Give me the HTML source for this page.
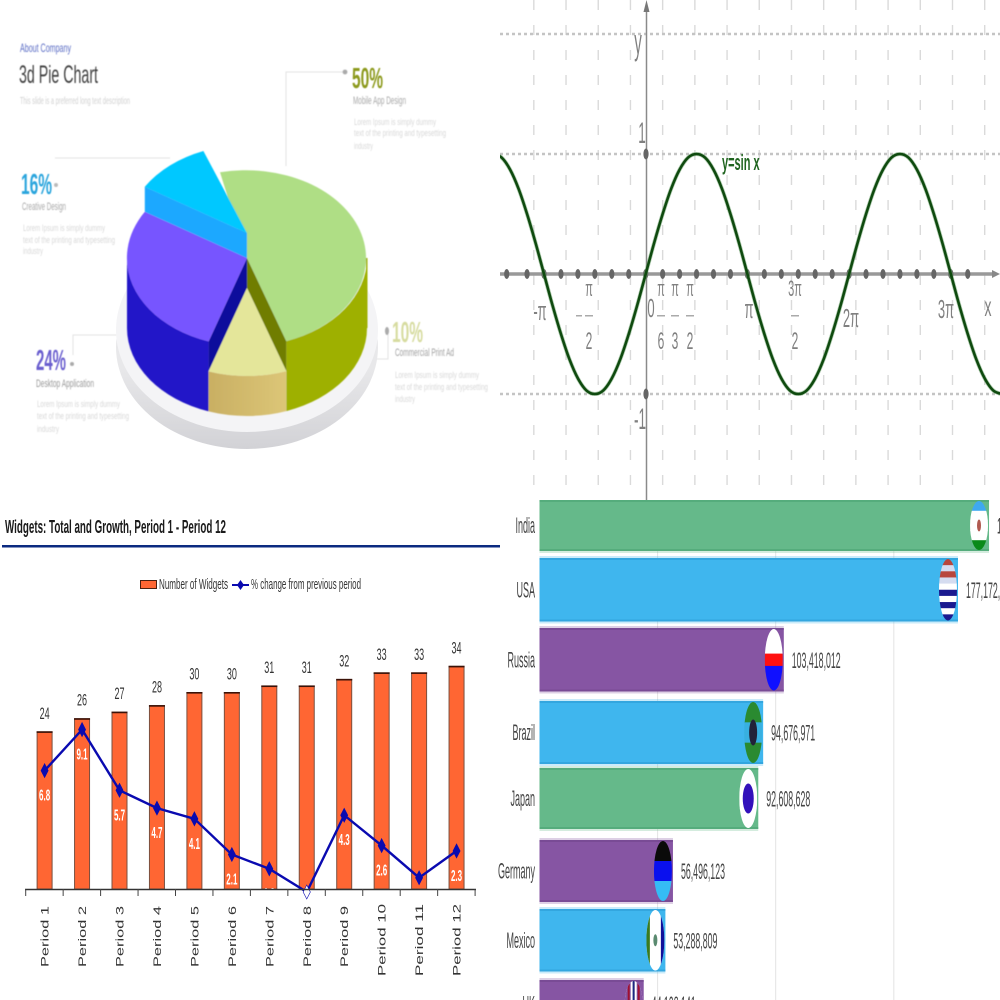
<!DOCTYPE html>
<html lang="en">
<head>
<meta charset="utf-8">
<title>Four chart collage</title>
<style>
html,body{margin:0;padding:0;background:#fff;width:1000px;height:1000px;overflow:hidden}
svg{display:block;font-family:"Liberation Sans",sans-serif}
</style>
</head>
<body>
<svg id="collage" xmlns="http://www.w3.org/2000/svg" width="1000" height="1000" viewBox="0 0 1000 1000">
  <defs>
    <clipPath id="clip-sine"><rect x="500" y="0" width="500" height="500"/></clipPath>
    <clipPath id="clip-race"><rect x="498" y="500" width="502" height="500"/></clipPath>
    <linearGradient id="tan-grad" x1="0" x2="1" y1="0" y2="0"><stop offset="0" stop-color="#c9af63"/><stop offset="1" stop-color="#dcc677"/></linearGradient>
    <linearGradient id="plate-grad" x1="0" x2="0" y1="0" y2="1"><stop offset="0.6" stop-color="#e8e8ea"/><stop offset="1" stop-color="#d2d2d6"/></linearGradient>
    <filter id="soft" x="-5%" y="-5%" width="110%" height="110%"><feGaussianBlur stdDeviation="0.45"/></filter>
  </defs>

  <!-- Top-left: 3D pie infographic -->
  <g id="pie-panel">
    <g filter="url(#soft)">
      <text x="20" y="52" font-size="12" fill="#5a6cc4" textLength="51" lengthAdjust="spacingAndGlyphs">About Company</text>
      <text x="19" y="83" font-size="25" fill="#3f3f3f" textLength="79" lengthAdjust="spacingAndGlyphs">3d Pie Chart</text>
      <text x="20" y="104" font-size="10" fill="#d0d0d0" textLength="110" lengthAdjust="spacingAndGlyphs">This slide is a preferred long text description</text>

      <text x="352" y="88" font-size="29" font-weight="bold" fill="#8c9a1e" textLength="31" lengthAdjust="spacingAndGlyphs">50%</text>
      <text x="353" y="104" font-size="11" fill="#a8a8a8" textLength="53" lengthAdjust="spacingAndGlyphs">Mobile App Design</text>
      <g font-size="9" fill="#d8d8d8">
        <text x="354" y="125" textLength="82" lengthAdjust="spacingAndGlyphs">Lorem Ipsum is simply dummy</text>
        <text x="354" y="136" textLength="92" lengthAdjust="spacingAndGlyphs">text of the printing and typesetting</text>
        <text x="354" y="149" textLength="19" lengthAdjust="spacingAndGlyphs">industry</text>
      </g>

      <text x="21" y="194" font-size="29" font-weight="bold" fill="#2ba5dd" textLength="31" lengthAdjust="spacingAndGlyphs">16%</text>
      <text x="22" y="210" font-size="11" fill="#a8a8a8" textLength="44" lengthAdjust="spacingAndGlyphs">Creative Design</text>
      <g font-size="9" fill="#d8d8d8">
        <text x="23" y="231" textLength="82" lengthAdjust="spacingAndGlyphs">Lorem Ipsum is simply dummy</text>
        <text x="23" y="243" textLength="92" lengthAdjust="spacingAndGlyphs">text of the printing and typesetting</text>
        <text x="23" y="254" textLength="20" lengthAdjust="spacingAndGlyphs">industry</text>
      </g>

      <text x="36" y="370" font-size="29" font-weight="bold" fill="#6a5fcf" textLength="30" lengthAdjust="spacingAndGlyphs">24%</text>
      <text x="36" y="387" font-size="11" fill="#999" textLength="58" lengthAdjust="spacingAndGlyphs">Desktop Application</text>
      <g font-size="9" fill="#d8d8d8">
        <text x="37" y="407" textLength="83" lengthAdjust="spacingAndGlyphs">Lorem Ipsum is simply dummy</text>
        <text x="37" y="419" textLength="92" lengthAdjust="spacingAndGlyphs">text of the printing and typesetting</text>
        <text x="37" y="432" textLength="22" lengthAdjust="spacingAndGlyphs">industry</text>
      </g>

      <text x="392" y="342" font-size="29" font-weight="bold" fill="#d7dca0" textLength="31" lengthAdjust="spacingAndGlyphs">10%</text>
      <text x="395" y="356" font-size="11" fill="#a0a0a0" textLength="59" lengthAdjust="spacingAndGlyphs">Commercial Print Ad</text>
      <g font-size="9" fill="#d8d8d8">
        <text x="395" y="378" textLength="84" lengthAdjust="spacingAndGlyphs">Lorem Ipsum is simply dummy</text>
        <text x="395" y="390" textLength="93" lengthAdjust="spacingAndGlyphs">text of the printing and typesetting</text>
        <text x="395" y="402" textLength="20" lengthAdjust="spacingAndGlyphs">industry</text>
      </g>

      <g fill="none" stroke="#e2e2e2" stroke-width="1">
        <path d="M286 166V72H343"/>
        <path d="M55 158H170"/>
        <path d="M73 355V335H155"/>
        <path d="M285 359H388V332"/>
      </g>
      <circle cx="345" cy="72" r="2.4" fill="#aaa"/>
      <circle cx="56" cy="185" r="2" fill="#bbb"/>
      <circle cx="155" cy="336" r="2" fill="#99a"/>
      <circle cx="72" cy="364" r="2" fill="#aaa"/>
      <ellipse cx="387" cy="331" rx="2" ry="4" fill="#aaa"/>
    </g>

    <ellipse cx="247" cy="347" rx="131" ry="102" fill="url(#plate-grad)"/>
    <ellipse cx="247" cy="330" rx="131" ry="102" fill="#f4f4f6"/>
    <g id="pie-slices" filter="url(#soft)"></g>
  </g>

  <!-- Top-right: sine -->
  <g id="sine-panel" clip-path="url(#clip-sine)"></g>

  <!-- Bottom-left: widgets -->
  <g id="widgets-panel">
    <text x="5" y="533" font-size="18" font-weight="bold" fill="#1a1a1a" textLength="221" lengthAdjust="spacingAndGlyphs">Widgets: Total and Growth, Period 1 - Period 12</text>
    <rect x="2" y="545" width="498" height="2.5" fill="#0b2a80"/>
    <rect x="140.5" y="580.5" width="16" height="8" fill="#ff6633" stroke="#4a2010"/>
    <text x="159" y="589" font-size="15" fill="#333" textLength="69" lengthAdjust="spacingAndGlyphs">Number of Widgets</text>
    <line x1="232" x2="249" y1="585" y2="585" stroke="#0a0ab0" stroke-width="2"/>
    <path d="M240.500 580L244 585L240.500 590L237 585Z" fill="#0a0ab0"/>
    <text x="251" y="589" font-size="15" fill="#333" textLength="110" lengthAdjust="spacingAndGlyphs">% change from previous period</text>
    <g id="widgets-plot"></g>
  </g>

  <!-- Bottom-right: bar race -->
  <g id="race-panel" clip-path="url(#clip-race)"></g>
</svg>

<script>
const sliceNames = ['commercial-green', 'print-yellow', 'desktop-purple', 'creative-cyan'];
const sliceValues = [48.3, 10.5, 28.6, 10.3];

// ---------- Sine data ----------
const sineTwelfths = [-18,-17,-16,-15,-14,-13,-12,-11,-10,-9,-8,-7,-6,-5,-4,-3,-2,-1,0,1,2,3,4,5,6,7,8,9,10,11,12,13,14,15,16,17,18,19,20,21,22,23,24,25,26,27,28,29,30,31,32,33,34,35,36,37,38,39,40,41,42];
const sineValues = [1,.97,.87,.71,.5,.26,0,-.26,-.5,-.71,-.87,-.97,-1,-.97,-.87,-.71,-.5,-.26,0,.26,.5,.71,.87,.97,1,.97,.87,.71,.5,.26,0,-.26,-.5,-.71,-.87,-.97,-1,-.97,-.87,-.71,-.5,-.26,0,.26,.5,.71,.87,.97,1,.97,.87,.71,.5,.26,0,-.26,-.5,-.71,-.87,-.97,-1];
const sineTickSixths = [-8.2,-7,-6,-5,-4,-3,-2,-1,0,1,2,3,4,5,6,7,8,9,10,11,12,13,14,15,16,17,18,19];
const sineGridTwelfths = [-13.2,-9.4,-5.6,-1.8,2,5.8,9.6,13.4,17.2,21,24.8,28.6,32.4,36.2,40];

// ---------- Widgets data ----------
const periods = ['Period 1','Period 2','Period 3','Period 4','Period 5','Period 6','Period 7','Period 8','Period 9','Period 10','Period 11','Period 12'];
const widgetCounts = [24,26,27,28,30,30,31,31,32,33,33,34];
const pctChange = [6.8,9.1,5.7,4.7,4.1,2.1,1.3,0,4.3,2.6,0.8,2.3];

// ---------- Bar race data ----------
const countries = ['India','USA','Russia','Brazil','Japan','Germany','Mexico','UK'];
const populations = [190312145,177172388,103418012,94676971,92608628,56496123,53288809,44108141];
const populationLabels = ['190,312,145','177,172,388','103,418,012','94,676,971','92,608,628','56,496,123','53,288,809','44,108,141'];
const raceGridValues = [50000000,100000000,150000000];
const barColorNames = ['green','blue','purple','blue','green','purple','blue','purple'];

const NS = 'http://www.w3.org/2000/svg';
function mk(tag, attrs, parent) {
  const n = document.createElementNS(NS, tag);
  for (const k in attrs) n.setAttribute(k, attrs[k]);
  parent.appendChild(n);
  return n;
}
function squeezed(str, x, y, size, sx, fill, anchor, parent, weight) {
  const t = mk('text', {transform:'translate(' + x + ' ' + y + ') scale(' + sx + ' 1)', 'font-size':size, fill:fill, 'text-anchor':anchor || 'start', 'font-weight':weight || 'normal'}, parent);
  t.textContent = str;
  return t;
}

// ========== PIE ==========
(function () {
  const g = document.getElementById('pie-slices');
  const cx = 247, cy = 258, rx = 120, ry = 88, depth = 70;
  const deg = v => v * 3.6;
  const pt = (a, dx, dy) => {
    const r = a * Math.PI / 180;
    return [cx + rx * Math.sin(r) + (dx || 0), cy - ry * Math.cos(r) + (dy || 0)];
  };
  const f = p => p[0].toFixed(1) + ' ' + p[1].toFixed(1);
  const arc = (a0, a1, dx, dy, rev) => {
    const s = a1 - a0 > 180 ? 1 : 0;
    return 'A' + rx + ' ' + ry + ' 0 ' + s + ' ' + (rev ? 0 : 1) + ' ' + f(rev ? pt(a0, dx, dy) : pt(a1, dx, dy));
  };
  const wedge = (a0, a1, dx, dy) => 'M' + (cx + dx) + ' ' + (cy + dy) + 'L' + f(pt(a0, dx, dy)) + arc(a0, a1, dx, dy) + 'Z';
  const rim = (a0, a1, dy, h) => 'M' + f(pt(a0, 0, dy)) + arc(a0, a1, 0, dy) + 'L' + f(pt(a1, 0, dy + h)) + arc(a0, a1, 0, dy + h, true) + 'Z';

  const start = -13;
  const a1 = start + deg(sliceValues[0]);
  const a2 = a1 + deg(sliceValues[1]);
  const a3 = a2 + deg(sliceValues[2]);
  const a4 = a3 + deg(sliceValues[3]);
  const lift = 25, drop = 30;

  let n;
  n = mk('path', {d: rim(90, a1, 0, depth), fill:'#9eb000'}, g);
  
  
  n = mk('rect', {x:cx + rx - 1, y:cy, width:1.5, height:depth, fill:'#9eb000'}, g);
  
  
  n = mk('path', {d: rim(a2, 270, 0, depth), fill:'#2214c8'}, g);
  
  
  n = mk('path', {d:'M' + cx + ' ' + cy + 'L' + f(pt(a1)) + 'L' + f(pt(a1, 0, drop)) + 'L' + cx + ' ' + (cy + drop) + 'Z', fill:'#6f7d00'}, g);
  
  
  n = mk('path', {d:'M' + cx + ' ' + cy + 'L' + f(pt(a2)) + 'L' + f(pt(a2, 0, drop)) + 'L' + cx + ' ' + (cy + drop) + 'Z', fill:'#0a0a9c'}, g);
  
  
  n = mk('path', {d: rim(a1, a2, drop, depth - drop), fill:'url(#tan-grad)'}, g);
  
  
  n = mk('path', {d: wedge(a1, a2, 0, drop), fill:'#e4e69a'}, g);
  
  
  n = mk('path', {d: wedge(start, a1, 0, 0), fill:'#afde85'}, g);
  
  
  n = mk('path', {d: wedge(a2, a3, 0, 0), fill:'#7755ff'}, g);
  
  
  n = mk('path', {d:'M' + cx + ' ' + (cy - lift) + 'L' + f(pt(a3, 0, -lift)) + 'L' + f(pt(a3, 0, 0)) + 'L' + cx + ' ' + cy + 'Z', fill:'#1aa8ff'}, g);
  
  
  n = mk('path', {d: wedge(a3, a4, 0, -lift), fill:'#00c8ff'}, g);
  
  
})();

// ========== SINE ==========
(function () {
  const g = document.getElementById('sine-panel');
  const sx = t => 645.7 + t * 101.7 / 12;
  const sy = v => 274 - 120 * v;
  let n;
  sineGridTwelfths.forEach(t => {
    n = mk('line', {x1:sx(t), x2:sx(t), y1:0, y2:500, stroke:'#dadada', 'stroke-width':1.4, 'stroke-dasharray':'10 15'}, g);
    
    
  });
  [1.0, -1.0, 2.0].forEach(v => {
    n = mk('line', {x1:500, x2:1000, y1:sy(v), y2:sy(v), stroke:'#c4c4c4', 'stroke-width':2.4, 'stroke-dasharray':'3 3'}, g);
    
    
  });
  n = mk('line', {x1:646.5, x2:646.5, y1:4, y2:500, stroke:'#8a8a8a', 'stroke-width':1.5}, g);
  
  
  n = mk('path', {d:'M646.5 0L643.5 12H649.500Z', fill:'#777'}, g);
  
  
  n = mk('line', {x1:500, x2:996, y1:274, y2:274, stroke:'#999', 'stroke-width':3.5}, g);
  
  
  n = mk('path', {d:'M1000 274L992 270V278Z', fill:'#888'}, g);
  
  
  sineTickSixths.forEach(k => {
    n = mk('ellipse', {cx:sx(k * 2), cy:274, rx:2.6, ry:5, fill:'#666'}, g);
    
    
  });
  [1, -1].forEach(v => {
    n = mk('ellipse', {cx:646, cy:sy(v), rx:2.6, ry:5.5, fill:'#666'}, g);
    
    
  });

  const pts = sineTwelfths.map((t, i) => [sx(t), sy(sineValues[i])]);
  let d = 'M' + pts[0][0].toFixed(2) + ' ' + pts[0][1].toFixed(2);
  for (let i = 0; i < pts.length - 1; i++) {
    const p0 = pts[Math.max(i - 1, 0)], p1 = pts[i], p2 = pts[i + 1], p3 = pts[Math.min(i + 2, pts.length - 1)];
    d += 'C' + (p1[0] + (p2[0] - p0[0]) / 6).toFixed(2) + ' ' + (p1[1] + (p2[1] - p0[1]) / 6).toFixed(2) + ' ' +
         (p2[0] - (p3[0] - p1[0]) / 6).toFixed(2) + ' ' + (p2[1] - (p3[1] - p1[1]) / 6).toFixed(2) + ' ' +
         p2[0].toFixed(2) + ' ' + p2[1].toFixed(2);
  }
  n = mk('path', {d:d, fill:'none', stroke:'#5f9a5f', 'stroke-width':4, opacity:.5}, g);
  
  
  n = mk('path', {d:d, fill:'none', stroke:'#0f4a0f', 'stroke-width':2.6}, g);
  
  

  const grey = '#808080';
  const lab = (s, x, y, size, scale, name) => {
    const t = squeezed(s, x, y, size, scale, grey, 'middle', g);
    
    
  };
  lab('y', 638, 54, 36, .42, 'sine-y-axis-title');
  lab('x', 988, 316, 28, .5, 'sine-x-axis-title');
  lab('1', 642, 143, 30, .45, 'sine-y-label-1');
  lab('-1', 640, 429, 30, .45, 'sine-y-label-minus-1');
  lab('0', 651, 317, 26, .5, 'sine-x-label-0');
  lab('-π', 540, 320, 26, .5, 'sine-x-label-minus-pi');
  lab('π', 749, 318, 26, .5, 'sine-x-label-pi');
  lab('2π', 851, 327, 26, .5, 'sine-x-label-2pi');
  lab('3π', 946, 318, 26, .5, 'sine-x-label-3pi');
  const frac = (top, bottom, x, name) => {
    lab(top, x, 296, 22, .5, name + '-numerator');
    n = mk('rect', {x:x - 4, y:315, width:8, height:1.5, fill:'#aaa'}, g);
    
    
    lab(bottom, x, 349, 24, .5, name + '-denominator');
  };
  frac('π', '2', 589, 'sine-x-label-minus-pi-over-2');
  n = mk('rect', {x:576, y:315, width:6, height:1.5, fill:'#aaa'}, g);
  
  
  frac('π', '6', 661, 'sine-x-label-pi-over-6');
  frac('π', '3', 675, 'sine-x-label-pi-over-3');
  frac('π', '2', 690, 'sine-x-label-pi-over-2');
  frac('3π', '2', 795, 'sine-x-label-3pi-over-2');
  const eq = squeezed('y=sin x', 722, 170, 22, .5, '#1f641f', 'start', g, 'bold');
  
  
})();

// ========== WIDGETS ==========
(function () {
  const g = document.getElementById('widgets-plot');
  const base = 889;
  const xPos = i => 44.6 + i * 37.45;
  const yBar = v => base - v * 6.55;
  const yPct = v => 892 - v * 17.85;
  let n;
  widgetCounts.forEach((v, i) => {
    n = mk('rect', {x:xPos(i) - 7.5, y:yBar(v), width:15, height:base - yBar(v), fill:'#ff6633', stroke:'#7a5040', 'stroke-width':1}, g);
    
    
    n = mk('rect', {x:xPos(i) - 8, y:yBar(v) - .5, width:16, height:1.6, fill:'#3a1208'}, g);
    
    
    n = squeezed(String(v), xPos(i), yBar(v) - 13, 17, .53, '#333', 'middle', g);
    
    
  });
  pctChange.forEach((v, i) => {
    n = squeezed(v.toFixed(1), xPos(i), yPct(v) + 30, 16, .5, '#fff', 'middle', g, 'bold');
    
    
  });
  n = mk('polyline', {points: pctChange.map((v, i) => xPos(i).toFixed(1) + ',' + yPct(v).toFixed(1)).join(' '), fill:'none', stroke:'#0a0ab0', 'stroke-width':2.4}, g);
  
  
  pctChange.forEach((v, i) => {
    const x = xPos(i), y = yPct(v);
    n = mk('path', {d:'M' + x + ' ' + (y - 7) + 'L' + (x + 3.6) + ' ' + y + 'L' + x + ' ' + (y + 7) + 'L' + (x - 3.6) + ' ' + y + 'Z', fill: v === 0 ? '#fff' : '#0a0ab0', stroke:'#0a0ab0', 'stroke-width':.6}, g);
    
    
  });
  n = mk('line', {x1:25, x2:476, y1:889.5, y2:889.5, stroke:'#333', 'stroke-width':1.4}, g);
  
  
  for (let i = 0; i <= periods.length; i++) {
    const tx = xPos(i) - 18.9;
    n = mk('line', {x1:tx, x2:tx, y1:889, y2:896, stroke:'#444', 'stroke-width':1}, g);
    
    
  }
  periods.forEach((p, i) => {
    const y0 = p.length > 8 ? 976 : 967;
    n = mk('text', {transform:'translate(' + (xPos(i) + 4) + ' ' + y0 + ') rotate(-90)', 'font-size':11, fill:'#333', textLength:p.length > 8 ? 72 : 61, lengthAdjust:'spacingAndGlyphs'}, g);
    n.textContent = p;
    
    
  });
})();

// ========== BAR RACE ==========
(function () {
  const g = document.getElementById('race-panel');
  const x0 = 539.5;
  const xv = v => x0 + v * 2.362 / 1e6;
  const tops = [500, 558, 628, 701, 768, 840, 909, 980];
  const heights = [51, 63.5, 63.5, 63, 61, 62, 62.5, 48];
  const colors = {green:['#65b98a','#4fa676'], blue:['#3fb6ee','#2fa0d8'], purple:['#8655a3','#74478f']};
  const flagStripes = [
    ['#3fa9f0','#ffffff','#ffffff','#ffffff','#0a8a1a'],
    ['#b8463c','#d5dcf0','#b8463c','#d5dcf0','#ffffff','#1a1a90','#ffffff','#1a1a90','#ffffff','#1a1a90'],
    ['#ffffff','#ffffff','#ff1010','#1010ff','#1010ff'],
    ['#2a8a30','#2a8a30','#38b0e0','#38b0e0','#2a8a30','#2a8a30'],
    ['#ffffff','#ffffff','#ffffff'],
    ['#0a0a0a','#0a10ee','#35bcf5'],
    ['#ffffff','#ffffff','#ffffff'],
    ['#ffffff','#ffffff','#ffffff']
  ];
  const flagCenters = ['#b05a50', null, null, '#222238', '#3311bb', null, '#5a8a70', null];
  let n;
  raceGridValues.forEach(v => {
    n = mk('line', {x1:xv(v), x2:xv(v), y1:500, y2:1000, stroke:'#e3e3e3', 'stroke-width':1}, g);
    
    
  });
  populations.forEach((v, i) => {
    const right = xv(v), y = tops[i], h = heights[i], c = colors[barColorNames[i]];
    n = mk('rect', {x:x0, y:y - 2, width:right - x0, height:h + 4, fill:c[0], opacity:.28}, g);
    
    
    n = mk('rect', {x:x0, y:y, width:right - x0, height:h, fill:c[0]}, g);
    
    
    n = mk('rect', {x:x0, y:y, width:right - x0, height:2, fill:c[1], opacity:.7}, g);
    
    
    n = mk('rect', {x:x0, y:y + h - 2, width:right - x0, height:2, fill:c[1], opacity:.7}, g);
    
    

    const fx = right - 10, fy = y + h / 2, ry = h / 2 - 1;
    const cid = 'flag-clip-' + i;
    const cp = mk('clipPath', {id:cid}, g);
    mk('ellipse', {cx:fx, cy:fy, rx:9, ry:ry}, cp);
    const flag = mk('g', {'clip-path':'url(#' + cid + ')'}, g);
    
    
    const st = flagStripes[i];
    st.forEach((col, k) => {
      mk('rect', {x:fx - 9, y:fy - ry + k * (2 * ry / st.length), width:18, height:2 * ry / st.length + .5, fill:col}, flag);
    });
    if (countries[i] === 'Mexico') {
      mk('rect', {x:fx - 9, y:fy - ry, width:3.5, height:2 * ry, fill:'#3a7a20'}, flag);
      mk('rect', {x:fx + 5.5, y:fy - ry, width:3.5, height:2 * ry, fill:'#10109a'}, flag);
    }
    if (countries[i] === 'UK') {
      mk('rect', {x:fx - 9, y:fy - ry, width:18, height:2 * ry, fill:'#8655a3'}, flag);
      mk('rect', {x:fx - 6, y:fy - ry, width:2, height:2 * ry, fill:'#a01030'}, flag);
      mk('rect', {x:fx - 3, y:fy - ry, width:2, height:2 * ry, fill:'#ffffff'}, flag);
      mk('rect', {x:fx - 1, y:fy - ry, width:2, height:2 * ry, fill:'#1a2a80'}, flag);
      mk('rect', {x:fx + 1, y:fy - ry, width:2, height:2 * ry, fill:'#ffffff'}, flag);
      mk('rect', {x:fx + 4, y:fy - ry, width:2, height:2 * ry, fill:'#a01030'}, flag);
    }
    if (flagCenters[i]) {
      const big = countries[i] === 'Japan' ? [5.5, 15] : (countries[i] === 'Brazil' ? [4, 13] : [2, 6]);
      mk('ellipse', {cx:fx, cy:fy, rx:big[0], ry:big[1], fill:flagCenters[i]}, flag);
    }

    n = squeezed(countries[i], 535, fy + 7.5, 22, .41, '#444', 'end', g);
    
    
    n = squeezed(populationLabels[i], right + 8, fy + 8, 22, .4, '#444', 'start', g);
    
    
  });
})();
</script>
</body>
</html>
